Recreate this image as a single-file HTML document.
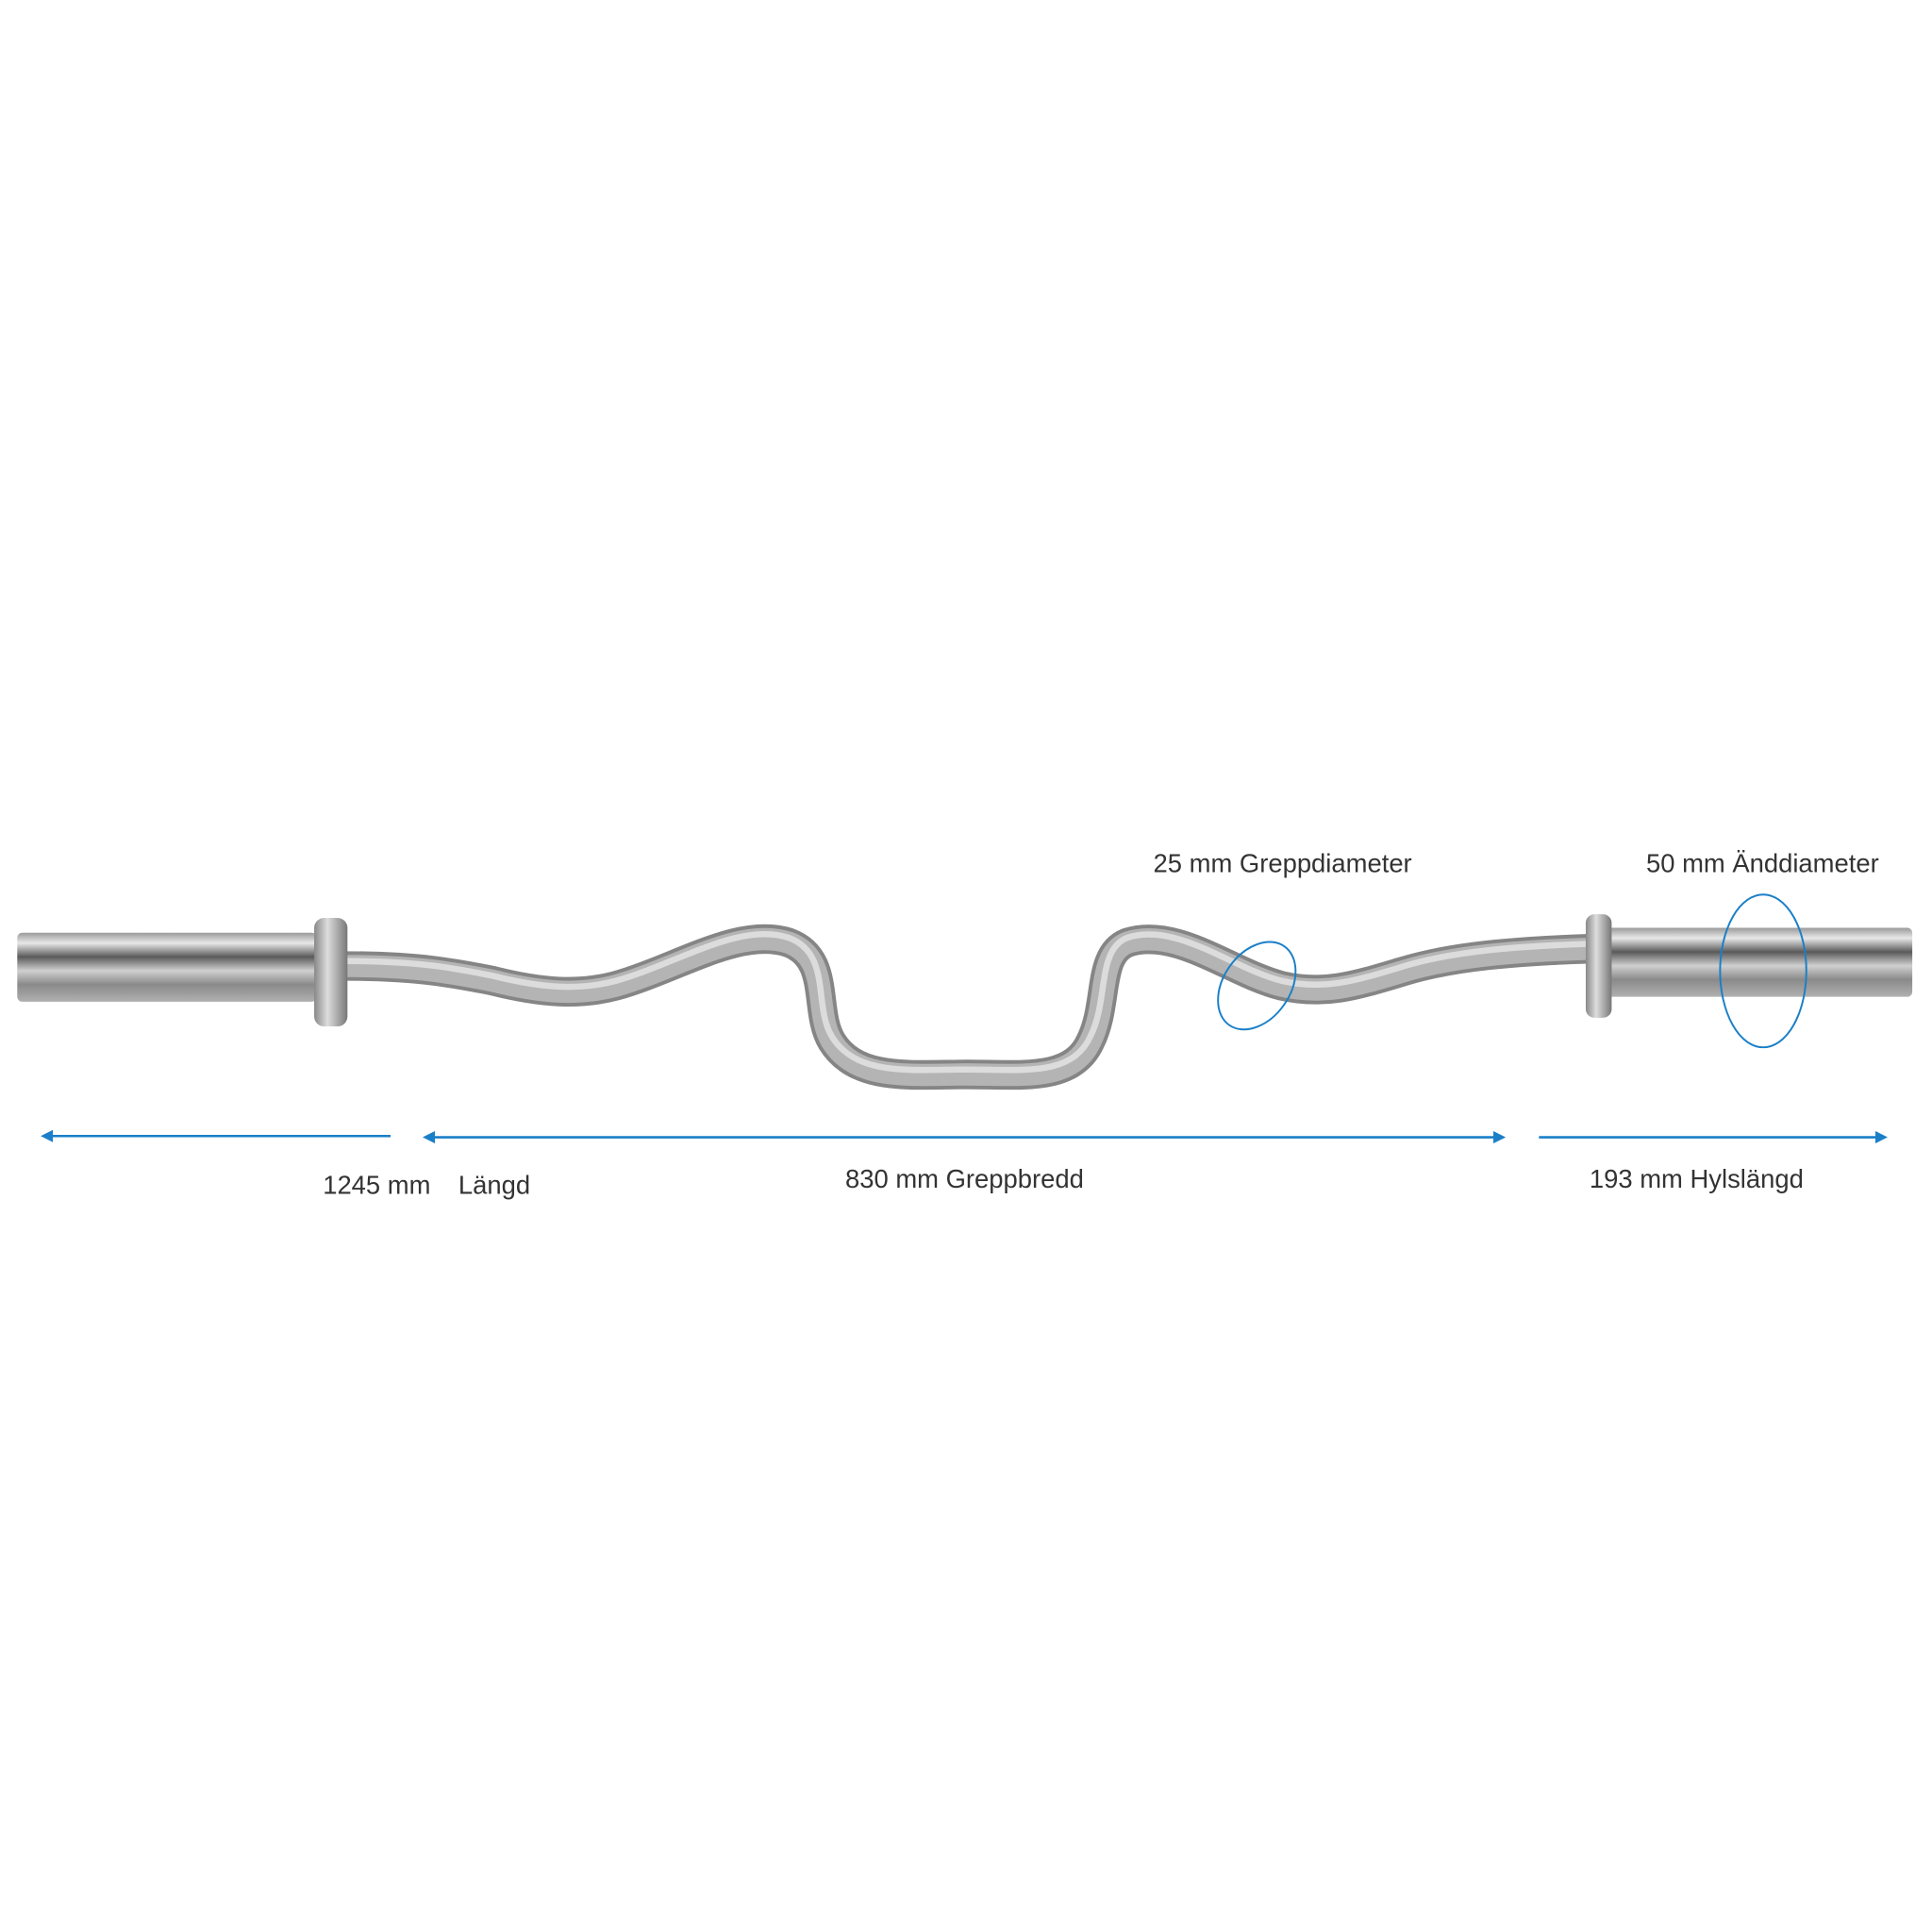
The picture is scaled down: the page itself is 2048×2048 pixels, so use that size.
<!DOCTYPE html>
<html><head><meta charset="utf-8"><style>
html,body{margin:0;padding:0;background:#fff;}
svg{display:block;}
text{font-family:"Liberation Sans",sans-serif;font-size:21px;fill:#333;}
</style></head><body>
<svg width="2048" height="2048" viewBox="0 0 1568 1568" xmlns="http://www.w3.org/2000/svg">
<defs>
<linearGradient id="sl" x1="0" y1="0" x2="0" y2="1">
<stop offset="0" stop-color="#9a9a9a"/><stop offset="0.15" stop-color="#e8e8e8"/><stop offset="0.35" stop-color="#5a5a5a"/><stop offset="0.55" stop-color="#d0d0d0"/><stop offset="0.75" stop-color="#8a8a8a"/><stop offset="1" stop-color="#b0b0b0"/>
</linearGradient>
<linearGradient id="col" x1="0" y1="0" x2="1" y2="0">
<stop offset="0" stop-color="#888"/><stop offset="0.4" stop-color="#ddd"/><stop offset="1" stop-color="#777"/>
</linearGradient>
<marker id="ah" viewBox="0 0 10 10" refX="5" refY="5" markerWidth="5" markerHeight="5" orient="auto-start-reverse"><path d="M0,0 L10,5 L0,10 z" fill="#1a7fc8"/></marker>
</defs>
<path d="M280,784 C340,784 370,790 400,796 C440,806 470,808 500,800 C550,786 600,752 640,765 C675,778 660,820 675,845 C695,878 740,872 785,872 C830,872 870,878 885,845 C900,815 890,775 915,765 C955,752 1000,790 1040,800 C1075,808 1100,800 1140,788 C1180,776 1230,772 1290,770" fill="none" stroke="#858585" stroke-width="24" stroke-linecap="round"/>
<path d="M280,784 C340,784 370,790 400,796 C440,806 470,808 500,800 C550,786 600,752 640,765 C675,778 660,820 675,845 C695,878 740,872 785,872 C830,872 870,878 885,845 C900,815 890,775 915,765 C955,752 1000,790 1040,800 C1075,808 1100,800 1140,788 C1180,776 1230,772 1290,770" fill="none" stroke="#b4b4b4" stroke-width="18" stroke-linecap="round"/>
<path d="M280,780 C340,780 370,786 400,792 C440,802 470,804 500,796 C550,782 600,748 640,761 C675,774 660,816 675,841 C695,874 740,868 785,868 C830,868 870,874 885,841 C900,811 890,771 915,761 C955,748 1000,786 1040,796 C1075,804 1100,796 1140,784 C1180,772 1230,768 1290,766" fill="none" stroke="#dcdcdc" stroke-width="5" stroke-linecap="round"/>
<rect x="14" y="757" width="243" height="56" rx="4" fill="url(#sl)"/>
<rect x="255" y="745" width="27" height="88" rx="8" fill="url(#col)"/>
<rect x="1304" y="753" width="248" height="56" rx="4" fill="url(#sl)"/>
<rect x="1287" y="742" width="21" height="84" rx="7" fill="url(#col)"/>
<ellipse cx="1020" cy="800" rx="27" ry="39" transform="rotate(35 1020 800)" fill="none" stroke="#1a7fc8" stroke-width="1.5"/>
<ellipse cx="1431" cy="788" rx="35" ry="62" fill="none" stroke="#1a7fc8" stroke-width="1.5"/>
<line x1="38" y1="922" x2="317" y2="922" stroke="#1a7fc8" stroke-width="2" marker-start="url(#ah)"/>
<line x1="348" y1="923" x2="1217" y2="923" stroke="#1a7fc8" stroke-width="2" marker-start="url(#ah)" marker-end="url(#ah)"/>
<line x1="1249" y1="923" x2="1527" y2="923" stroke="#1a7fc8" stroke-width="2" marker-end="url(#ah)"/>
<text x="262" y="969">1245 mm</text>
<text x="372" y="969">Längd</text>
<text x="686" y="964">830 mm Greppbredd</text>
<text x="1290" y="964">193 mm Hylslängd</text>
<text x="936" y="708">25 mm Greppdiameter</text>
<text x="1336" y="708">50 mm Änddiameter</text>
</svg>
</body></html>
